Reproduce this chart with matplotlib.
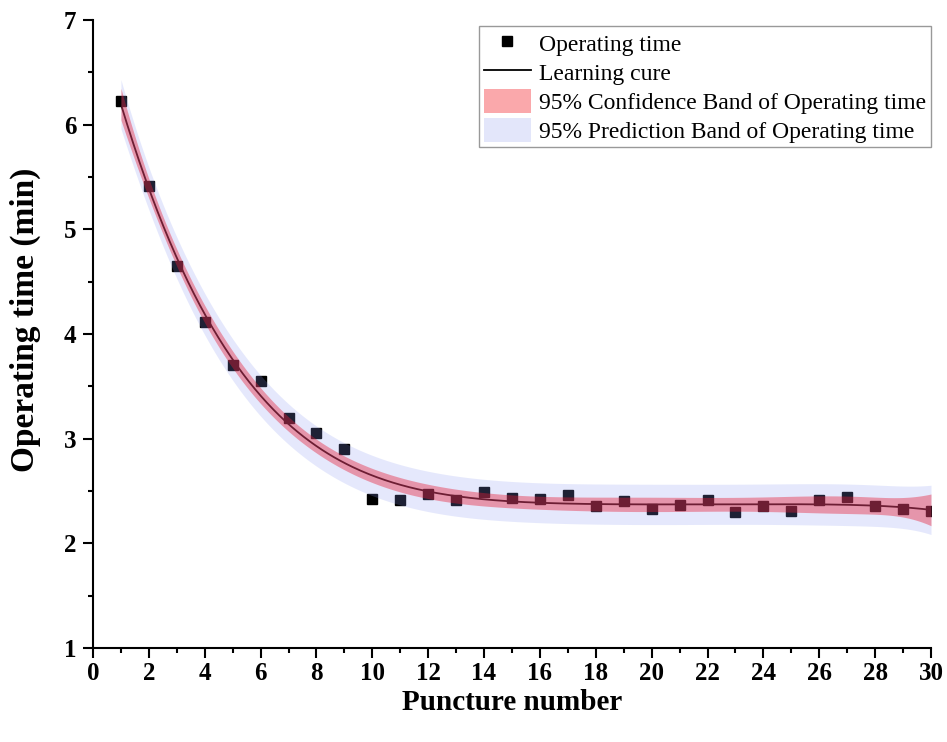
import numpy as np
import matplotlib
matplotlib.use("Agg")
import matplotlib.pyplot as plt
from matplotlib.patches import Patch
from matplotlib.lines import Line2D
from matplotlib.ticker import MultipleLocator

plt.rcParams['font.family'] = ['Liberation Serif', 'DejaVu Serif']

# Puncture number and operating time (min)
puncture = np.arange(1, 31)
op_time = [6.23, 5.41, 4.65, 4.11, 3.70, 3.55, 3.20, 3.05, 2.90, 2.42,
           2.41, 2.47, 2.41, 2.49, 2.43, 2.42, 2.46, 2.36, 2.40, 2.33,
           2.37, 2.41, 2.30, 2.36, 2.31, 2.41, 2.44, 2.36, 2.33, 2.31]

x_ticks = list(range(0, 31, 2))
y_ticks = list(range(1, 8))

# polynomial learning curve with 95% confidence / prediction bands
deg = 5
x = np.asarray(puncture, float)
y = np.asarray(op_time, float)
X = np.vander(x, deg + 1)
coef, *_ = np.linalg.lstsq(X, y, rcond=None)
resid = y - X @ coef
dof = len(x) - (deg + 1)
s = np.sqrt(np.sum(resid ** 2) / dof)
t_val = 2.064  # t(0.975, 24)
XtX_inv = np.linalg.inv(X.T @ X)

xf = np.linspace(1, 30, 400)
Xf = np.vander(xf, deg + 1)
yf = Xf @ coef
h = np.einsum('ij,jk,ik->i', Xf, XtX_inv, Xf)
ci = t_val * s * np.sqrt(h)
pi = t_val * s * np.sqrt(1 + h)

fig = plt.figure(figsize=(9.47, 7.42), dpi=100)
ax = fig.add_axes([0.0982, 0.1267, 0.8849, 0.8463])

ax.plot(x, y, 's', color='black', markersize=7, zorder=1)
ax.plot(xf, yf, '-', color='black', lw=1.3, zorder=2)
ax.fill_between(xf, yf - pi, yf + pi, color=(0.55, 0.6, 0.95), alpha=0.22,
                lw=0, zorder=3)
ax.fill_between(xf, yf - ci, yf + ci, color=(0.9, 0.1, 0.2), alpha=0.40,
                lw=0, zorder=4)

ax.set_xlim(0, 30)
ax.set_ylim(1, 7)
ax.set_xticks(x_ticks)
ax.set_yticks(y_ticks)
ax.xaxis.set_minor_locator(MultipleLocator(1))
ax.yaxis.set_minor_locator(MultipleLocator(0.5))
ax.spines['top'].set_visible(False)
ax.spines['right'].set_visible(False)
for sp in ('left', 'bottom'):
    ax.spines[sp].set_linewidth(1.5)
ax.tick_params(which='major', direction='out', length=7, width=1.5,
               labelsize=18, pad=5)
ax.tick_params(axis='x', which='major', pad=3)
ax.tick_params(which='minor', direction='out', length=3.5, width=1.5)
for lab in ax.get_xticklabels() + ax.get_yticklabels():
    lab.set_fontweight('bold')

ax.set_xlabel('Puncture number', fontsize=21, fontweight='bold', labelpad=3)
ax.set_ylabel('Operating time (min)', fontsize=24, fontweight='bold')
ax.yaxis.set_label_coords(-0.062, 0.522)

handles = [
    Line2D([], [], marker='s', color='black', ls='none', markersize=7),
    Line2D([], [], color='black', lw=1.3),
    Patch(facecolor=(0.98, 0.66, 0.67)),
    Patch(facecolor=(0.89, 0.9, 0.98)),
]
labels = ['Operating time', 'Learning cure',
          '95% Confidence Band of Operating time',
          '95% Prediction Band of Operating time']
leg = ax.legend(handles, labels, loc='upper right', bbox_to_anchor=(1.0, 0.99),
                fontsize=17, frameon=True, fancybox=False, edgecolor='gray',
                handlelength=2.0, handleheight=1.2, handletextpad=0.35,
                borderpad=0.2, labelspacing=0.16, borderaxespad=0.0)
leg.get_frame().set_linewidth(1.0)

fig.savefig('out.png', dpi=100)
